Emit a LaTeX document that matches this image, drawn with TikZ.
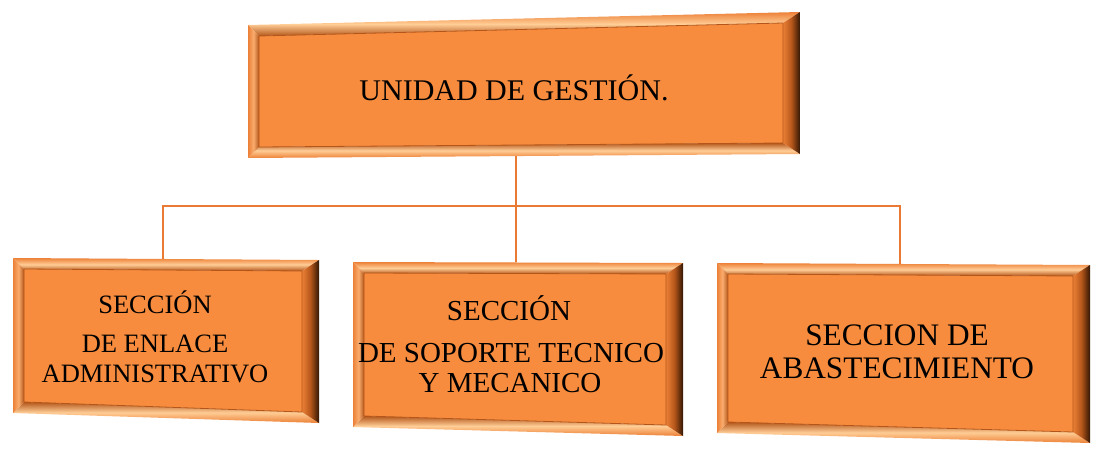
\documentclass[tikz,border=0pt]{standalone}
\usepackage{fontspec}
\setmainfont{Liberation Serif}
\usetikzlibrary{calc}
\definecolor{face}{RGB}{247,140,62}
\definecolor{conn}{RGB}{232,122,52}
\definecolor{bevlight}{RGB}{255,205,150}
\definecolor{bevsoft}{RGB}{250,172,110}
\definecolor{bevmid}{RGB}{236,128,54}
\definecolor{bevdeep}{RGB}{180,86,26}
\definecolor{bevdark}{RGB}{50,22,4}
\newcommand\bevbox[5]{%
  \coordinate (#1-A) at #2;
  \coordinate (#1-B) at #3;
  \coordinate (#1-C) at #4;
  \coordinate (#1-D) at #5;
  \coordinate (#1-a) at ($(#1-A)+(11,11)$);
  \coordinate (#1-b) at ($(#1-B)+(-17,11)$);
  \coordinate (#1-c) at ($(#1-C)+(-17,-11)$);
  \coordinate (#1-d) at ($(#1-D)+(11,-11)$);
  \fill[face] (#1-a)--(#1-b)--(#1-c)--(#1-d)--cycle;
  \shade[top color=bevmid, bottom color=bevdeep, middle color=bevlight]
    (#1-A)--(#1-B)--(#1-b)--(#1-a)--cycle;
  \shade[top color=bevdeep, bottom color=bevmid, middle color=bevlight]
    (#1-d)--(#1-c)--(#1-C)--(#1-D)--cycle;
  \shade[left color=bevmid, right color=bevdeep, middle color=bevsoft]
    (#1-A)--(#1-a)--(#1-d)--(#1-D)--cycle;
  \shade[left color=bevmid, right color=bevdark, middle color=bevdeep]
    (#1-B)--(#1-C)--(#1-c)--(#1-b)--cycle;
  \draw[bevdeep, line width=0.8pt, line join=round] (#1-a)--(#1-b)--(#1-c)--(#1-d)--cycle;
}
\tikzset{
  conline/.style={draw=conn, line width=1.8pt},
  lbl/.style={anchor=base, inner sep=0pt, text=black},
}
\begin{document}
\begin{tikzpicture}[x=1pt,y=-1pt]
\useasboundingbox (0,0) rectangle (1101,458);
% connector anchors
\coordinate (topb) at (516,156);
\coordinate (lt) at (163,259);
\coordinate (mt) at (516,262);
\coordinate (rt) at (900,264);
\coordinate (jr) at (900,206);
\draw[conline] (topb) -- (mt);
\draw[conline] (lt) |- (jr) -- (rt);
% boxes
\bevbox{top}{(248,25)}{(800,12)}{(800,154)}{(248,158)}
\bevbox{lb}{(13,258)}{(319,260)}{(319,423)}{(13,413)}
\bevbox{mb}{(353,262)}{(683,263)}{(683,436)}{(353,427)}
\bevbox{rb}{(717,263)}{(1090,265)}{(1090,443)}{(717,433)}
% texts
\node[lbl, font=\fontsize{30}{36}\selectfont] (t1) at (514,100) {UNIDAD DE GESTIÓN.};
\node[lbl, font=\fontsize{26.5}{30}\selectfont] (l1) at (155,313) {SECCIÓN};
\node[lbl, font=\fontsize{26.5}{30}\selectfont] (l2) at (155,352) {DE ENLACE};
\node[lbl, font=\fontsize{26.5}{30}\selectfont] (l3) at (155,382) {ADMINISTRATIVO};
\node[lbl, font=\fontsize{29}{32}\selectfont] (m1) at (509,320) {SECCIÓN};
\node[lbl, font=\fontsize{29}{32}\selectfont] (m2) at (511,362) {DE SOPORTE TECNICO};
\node[lbl, font=\fontsize{29}{32}\selectfont] (m3) at (510,392) {Y MECANICO};
\node[lbl, font=\fontsize{31.3}{34}\selectfont] (r1) at (897,345) {SECCION DE};
\node[lbl, font=\fontsize{31.3}{34}\selectfont] (r2) at (897,378) {ABASTECIMIENTO};
\end{tikzpicture}
\end{document}
